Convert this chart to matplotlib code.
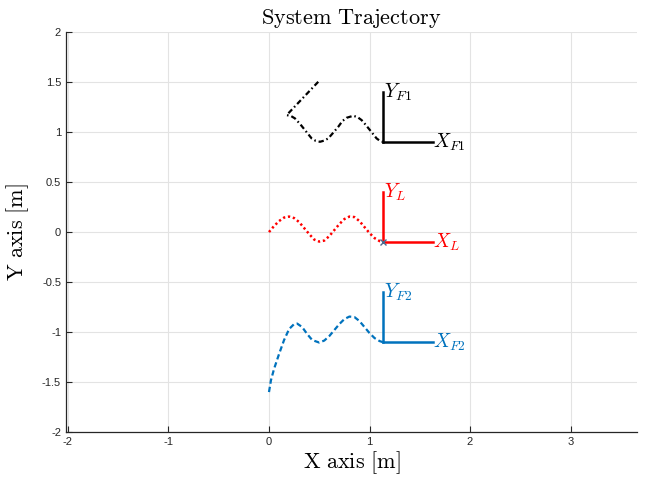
import matplotlib
matplotlib.use('Agg')
import matplotlib.pyplot as plt

# ========== DANE ==========

# leader (czerwony, kropkowany)
leader_x = [0.0, 0.05, 0.1, 0.15, 0.2, 0.25, 0.3, 0.35, 0.4, 0.45, 0.5, 0.55,
            0.6, 0.65, 0.7, 0.75, 0.8, 0.85, 0.9, 0.95, 1.0, 1.05, 1.1, 1.13]
leader_y = [0.0, 0.06, 0.11, 0.145, 0.155, 0.14, 0.1, 0.04, -0.02, -0.075, -0.095, -0.085,
            -0.04, 0.02, 0.08, 0.13, 0.155, 0.15, 0.11, 0.05, -0.01, -0.06, -0.09, -0.1]

# follower 1 (czarny, kreska-kropka)
f1_x = [0.49, 0.176, 0.22, 0.258, 0.31, 0.358, 0.424, 0.465, 0.507, 0.55, 0.59, 0.64,
        0.689, 0.73, 0.772, 0.838, 0.88, 0.921, 0.96, 1.004, 1.07, 1.1, 1.13]
f1_y = [1.503, 1.17, 1.16, 1.137, 1.08, 1.02, 0.937, 0.912, 0.903, 0.915, 0.937, 0.995,
        1.053, 1.11, 1.143, 1.163, 1.15, 1.12, 1.075, 1.02, 0.937, 0.915, 0.903]

# follower 2 (niebieski, przerywany)
f2_x = [0.0, 0.02, 0.05, 0.1, 0.15, 0.2, 0.25, 0.28, 0.33, 0.38, 0.43, 0.5, 0.55,
        0.6, 0.65, 0.7, 0.75, 0.8, 0.85, 0.9, 0.95, 1.0, 1.05, 1.1, 1.13]
f2_y = [-1.6, -1.48, -1.37, -1.22, -1.08, -0.97, -0.92, -0.915, -0.95, -1.02, -1.08, -1.105, -1.085,
        -1.04, -0.98, -0.92, -0.87, -0.845, -0.85, -0.89, -0.95, -1.01, -1.06, -1.09, -1.1]

# układy współrzędnych
frame_names = ['F1', 'L', 'F2']
frame_origin_x = [1.13, 1.13, 1.13]
frame_origin_y = [0.9, -0.1, -1.1]
frame_len = 0.5
frame_colors = ['black', 'red', '#0072BD']

# ========== WYKRES ==========

plt.rcParams['mathtext.fontset'] = 'cm'
plt.rcParams['axes.unicode_minus'] = False
plt.rcParams['font.family'] = 'Liberation Sans'

fig = plt.figure(figsize=(6.46, 4.79), dpi=100)
ax = fig.add_axes([0.102, 0.098, 0.884, 0.835])

ax.plot(f1_x, f1_y, color='black', linestyle=(0, (2.4, 1.3, 0.7, 1.3)), linewidth=1.6)
ax.plot(leader_x, leader_y, color='red', linestyle=(0, (0.9, 1.1)), linewidth=1.8)
ax.plot(f2_x, f2_y, color='#0072BD', linestyle=(0, (2.4, 1.4)), linewidth=1.6)

for name, x0, y0, c in zip(frame_names, frame_origin_x, frame_origin_y, frame_colors):
    ax.plot([x0, x0 + frame_len], [y0, y0], color=c, linewidth=1.8)
    ax.plot([x0, x0], [y0, y0 + frame_len], color=c, linewidth=1.8)
    ax.text(x0 + frame_len, y0, r'$X_{%s}$' % name, color=c, fontsize=14,
            ha='left', va='center')
    ax.text(x0 + 0.01, y0 + frame_len, r'$Y_{%s}$' % name, color=c, fontsize=14,
            ha='left', va='center')

ax.plot([frame_origin_x[1]], [frame_origin_y[1]], marker='x', color='#4a6a90',
        markersize=4, markeredgewidth=1)

ax.set_xlim(-2.02, 3.66)
ax.set_ylim(-2, 2)
ax.set_xticks([-2, -1, 0, 1, 2, 3])
ax.set_yticks([-2, -1.5, -1, -0.5, 0, 0.5, 1, 1.5, 2])
ax.set_yticklabels(['-2', '-1.5', '-1', '-0.5', '0', '0.5', '1', '1.5', '2'])
ax.set_xticklabels(['-2', '-1', '0', '1', '2', '3'])
ax.tick_params(direction='in', labelsize=8, length=4, width=0.8, colors='#262626')
ax.grid(True, color='#e3e3e3', linewidth=0.8)
ax.set_axisbelow(True)
for s in ['top', 'right']:
    ax.spines[s].set_visible(False)
for s in ['left', 'bottom']:
    ax.spines[s].set_color('#262626')
    ax.spines[s].set_linewidth(0.9)

ax.set_title(r'$\mathrm{System\ Trajectory}$', fontsize=16, pad=6)
ax.set_xlabel(r'$\mathrm{X\ axis\ [m]}$', fontsize=16, labelpad=2)
ax.set_ylabel(r'$\mathrm{Y\ axis\ [m]}$', fontsize=16, labelpad=8)

plt.savefig('out.png', dpi=100)
plt.close()
